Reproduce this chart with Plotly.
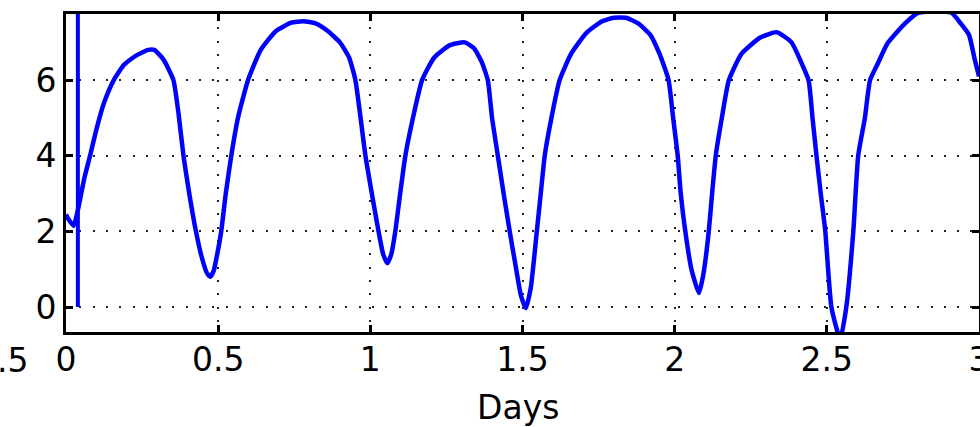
import plotly.graph_objects as go

# Main curve (Days vs value)
days = [0.0, 0.01, 0.025, 0.04, 0.06, 0.079, 0.1, 0.125, 0.157, 0.19, 0.23, 0.27, 0.29, 0.32, 0.353,
        0.37, 0.386, 0.405, 0.427, 0.445, 0.463, 0.474, 0.485, 0.497, 0.51, 0.525, 0.543, 0.565, 0.598,
        0.64, 0.69, 0.74, 0.78, 0.82, 0.86, 0.9, 0.93, 0.951, 0.968, 0.984, 1.005, 1.027, 1.042, 1.056,
        1.069, 1.082, 1.098, 1.115, 1.14, 1.17, 1.21, 1.26, 1.31, 1.34, 1.365, 1.386, 1.40, 1.419, 1.438,
        1.458, 1.475, 1.495, 1.511, 1.527, 1.537, 1.547, 1.56, 1.573, 1.595, 1.622, 1.66, 1.71, 1.76,
        1.80, 1.84, 1.88, 1.92, 1.95, 1.98, 1.995, 2.01, 2.02, 2.035, 2.055, 2.08, 2.095, 2.112, 2.123,
        2.135, 2.155, 2.178, 2.22, 2.28, 2.335, 2.384, 2.417, 2.44, 2.453, 2.466, 2.48, 2.495, 2.515,
        2.544, 2.564, 2.587, 2.603, 2.625, 2.642, 2.668, 2.70, 2.757, 2.80, 2.86, 2.91, 2.94, 2.967,
        2.986, 3.0]
values = [2.45, 2.3, 2.15, 2.6, 3.4, 4.0, 4.7, 5.4, 6.0, 6.4, 6.65, 6.8, 6.8, 6.55, 6.0,
          5.1, 4.0, 3.0, 2.0, 1.35, 0.9, 0.8, 0.95, 1.4, 2.0, 3.0, 4.0, 5.0, 6.0,
          6.8, 7.3, 7.52, 7.56, 7.5, 7.3, 7.0, 6.6, 6.0, 5.0, 4.0, 3.0, 2.0, 1.4, 1.16,
          1.4, 2.0, 3.0, 4.0, 5.0, 6.0, 6.6, 6.92, 7.0, 6.85, 6.5, 6.0, 5.0, 4.0, 3.0,
          2.0, 1.2, 0.3, -0.03, 0.5, 1.2, 2.0, 3.0, 4.0, 5.0, 6.0, 6.7, 7.25, 7.55,
          7.65, 7.65, 7.5, 7.2, 6.7, 6.0, 5.0, 4.0, 3.0, 2.0, 1.0, 0.37, 0.9, 2.0, 3.0,
          4.0, 5.0, 6.0, 6.7, 7.12, 7.27, 7.0, 6.45, 6.0, 5.0, 4.0, 3.0, 2.0, 0.0,
          -0.85, 0.0, 2.0, 4.0, 5.0, 6.0, 6.45, 6.98, 7.5, 7.78, 7.82, 7.78, 7.5, 7.2,
          6.55, 6.1]

# Vertical spike near day 0
spike_x = [0.039, 0.039]
spike_y = [0.0, 20.0]

x_tickvals = [0, 0.5, 1, 1.5, 2, 2.5, 3]
x_ticktext = ["0", "0.5", "1", "1.5", "2", "2.5", "3"]
y_tickvals = [0, 2, 4, 6]
y_ticktext = ["0", "2", "4", "6"]

BLUE = "#0000ff"
FONT = "DejaVu Sans, Liberation Sans, Arial, sans-serif"
FS = 33

fig = go.Figure()
fig.add_trace(go.Scatter(x=spike_x, y=spike_y, mode="lines",
                         line=dict(color=BLUE, width=4), showlegend=False))
fig.add_trace(go.Scatter(x=days, y=values, mode="lines",
                         line=dict(color=BLUE, width=4.5, shape="spline", smoothing=0.5),
                         showlegend=False))

axis_common = dict(
    showline=True, linecolor="black", linewidth=3, mirror="allticks",
    ticks="inside", ticklen=7, tickwidth=3, tickcolor="black",
    showgrid=True, gridcolor="#222222", gridwidth=1.5, griddash="2px,11.3px",
    zeroline=False, automargin=False, ticklabeloverflow="allow",
    tickfont=dict(family=FONT, size=FS, color="black"),
)

fig.update_xaxes(range=[0, 3], tickvals=x_tickvals, ticktext=x_ticktext,
                 ticklabelstandoff=-4, **axis_common)
fig.update_yaxes(range=[-0.66, 7.75], tickvals=y_tickvals, ticktext=y_ticktext,
                 ticklabelstandoff=0, **axis_common)

PL, PR, PT, PB = 66, 979, 14, 332  # plot area in page pixels
PW, PH = PR - PL, PB - PT

fig.add_annotation(text="Days", xref="paper", yref="paper",
                   x=(518 - PL) / PW, y=(PB - 407) / PH,
                   xanchor="center", yanchor="middle", showarrow=False,
                   font=dict(family=FONT, size=FS, color="black"))
fig.add_annotation(text=".5", xref="paper", yref="paper",
                   x=(-5 - PL) / PW, y=(PB - 360) / PH,
                   xanchor="left", yanchor="middle", showarrow=False,
                   font=dict(family=FONT, size=FS, color="black"))

fig.update_layout(
    width=980, height=427,
    margin=dict(l=PL, r=980 - PR, t=PT, b=427 - PB),
    paper_bgcolor="white", plot_bgcolor="white",
)

fig.write_html("out.html",
               config={"displayModeBar": False},
               post_script="document.body.style.margin='0';document.body.style.overflow='hidden';")
